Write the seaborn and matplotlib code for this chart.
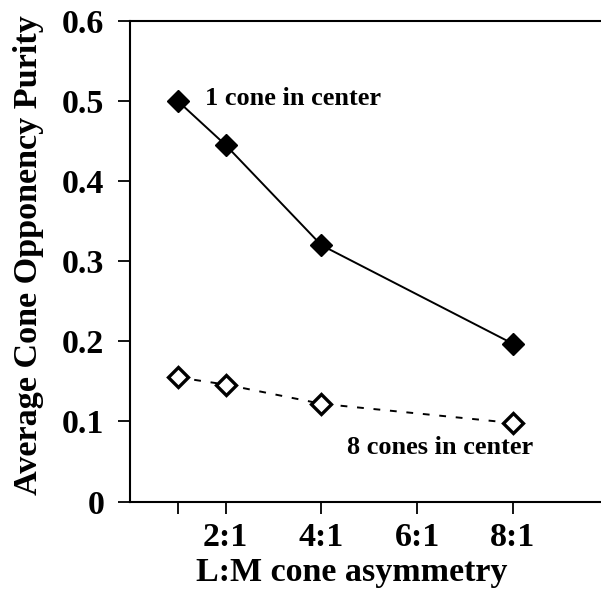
import matplotlib
matplotlib.use("Agg")
import matplotlib.pyplot as plt
import seaborn as sns
import pandas as pd

# Data
asymmetry = [1, 2, 4, 8]
one_cone = [0.500, 0.445, 0.320, 0.197]
eight_cones = [0.155, 0.146, 0.122, 0.098]
x_ticks = [1, 2, 4, 6, 8]
x_tick_labels = ["", "2:1", "4:1", "6:1", "8:1"]
y_ticks = [0, 0.1, 0.2, 0.3, 0.4, 0.5, 0.6]
y_tick_labels = ["0", "0.1", "0.2", "0.3", "0.4", "0.5", "0.6"]

sns.set_theme(style="ticks")
plt.rcParams["font.family"] = ["Liberation Serif", "DejaVu Serif"]
plt.rcParams["font.weight"] = "bold"

df1 = pd.DataFrame({"x": asymmetry, "y": one_cone})
df8 = pd.DataFrame({"x": asymmetry, "y": eight_cones})

fig = plt.figure(figsize=(6.01, 5.92), dpi=100)
ax = fig.add_axes([130 / 601, 90.5 / 592, 478.6 / 601, 480.5 / 592])

sns.lineplot(data=df1, x="x", y="y", ax=ax, color="black", linewidth=1.4,
             marker="D", markersize=11, markerfacecolor="black",
             markeredgecolor="black", markeredgewidth=1.0)
sns.lineplot(data=df8, x="x", y="y", ax=ax, color="black", linewidth=1.4,
             linestyle=(0, (3.5, 5)),
             marker="D", markersize=10.5, markerfacecolor="white",
             markeredgecolor="black", markeredgewidth=2.4)

ax.set_xlim(0, 10)
ax.set_ylim(0, 0.6)
ax.set_xticks(x_ticks)
ax.set_xticklabels(x_tick_labels)
ax.set_yticks(y_ticks)
ax.set_yticklabels(y_tick_labels)

ax.tick_params(axis="both", direction="out", length=8.5, width=1.3,
               labelsize=24.5, color="black", labelcolor="black")
ax.tick_params(axis="y", pad=10)
ax.tick_params(axis="x", pad=6)
for lab in ax.get_xticklabels() + ax.get_yticklabels():
    lab.set_fontweight("bold")

for side in ["left", "bottom", "top"]:
    ax.spines[side].set_visible(True)
    ax.spines[side].set_color("black")
    ax.spines[side].set_linewidth(1.5)
ax.spines["right"].set_visible(False)

ax.set_xlabel("L:M cone asymmetry", fontsize=24.5, fontweight="bold",
              color="black", labelpad=3)
ax.xaxis.set_label_coords(0.463, -0.115)
ax.set_ylabel("Average Cone Opponency Purity", fontsize=24.6, fontweight="bold",
              color="black")
ax.yaxis.set_label_coords(-0.18, 0.512)

ax.text(1.57, 0.503, "1 cone in center", fontsize=19, fontweight="bold",
        ha="left", va="center", color="black")
ax.text(4.53, 0.068, "8 cones in center", fontsize=19, fontweight="bold",
        ha="left", va="center", color="black")

ax.set_facecolor("white")
fig.patch.set_facecolor("white")
fig.savefig("out.png", dpi=100, facecolor="white")
